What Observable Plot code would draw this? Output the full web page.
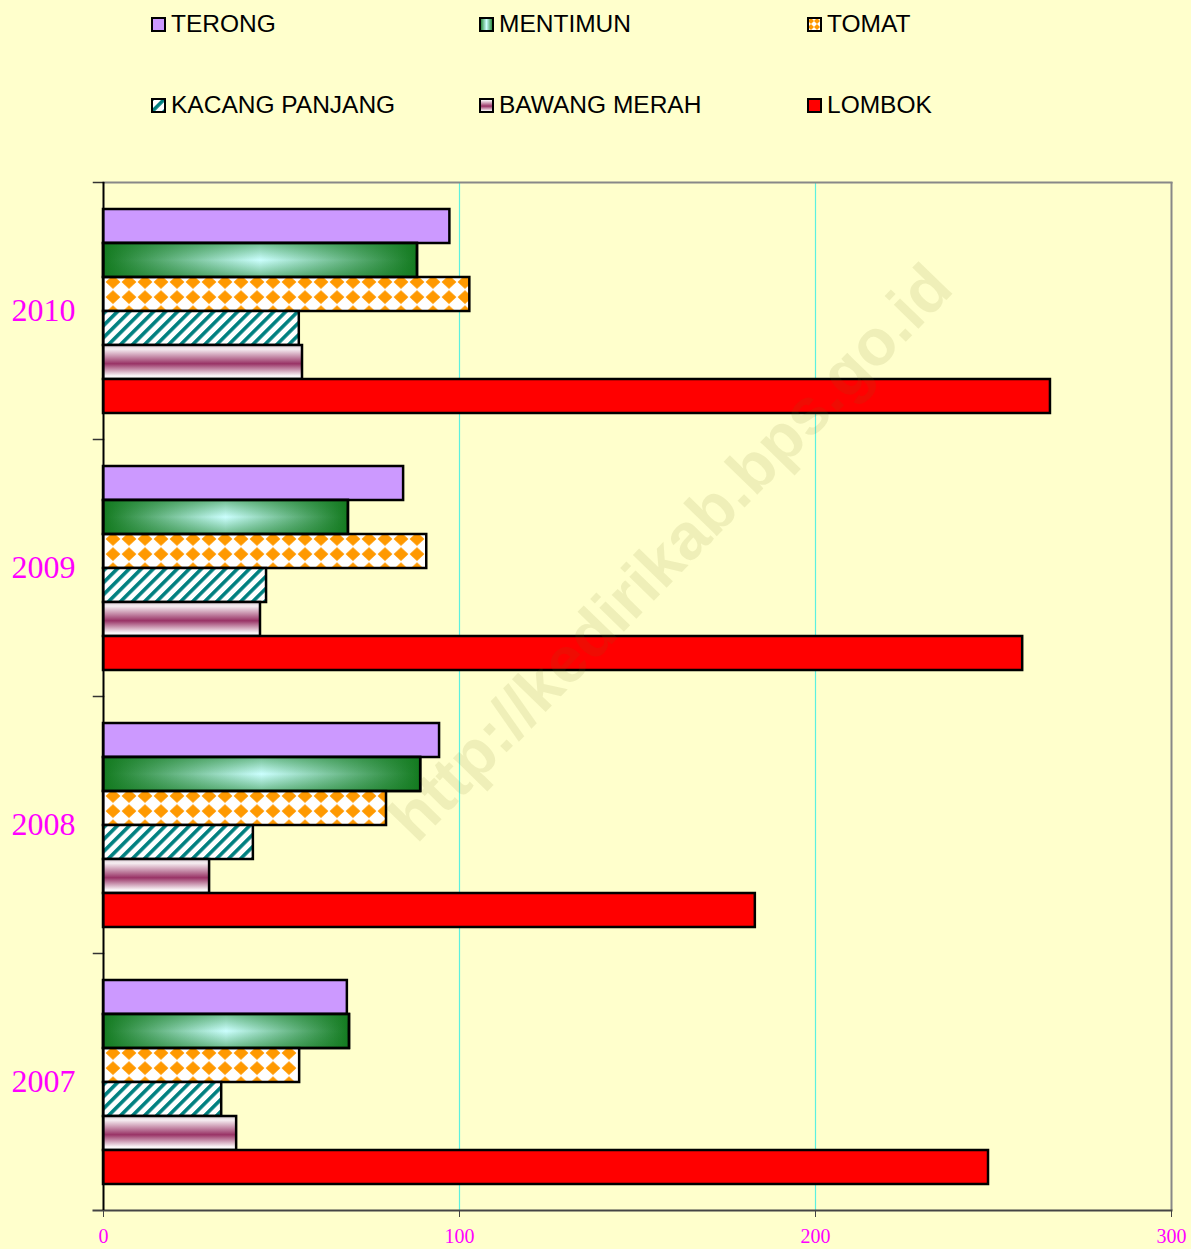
<!DOCTYPE html>
<html>
<head>
<meta charset="utf-8">
<script src="https://cdn.jsdelivr.net/npm/d3@7"></script>
<script src="https://cdn.jsdelivr.net/npm/@observablehq/plot@0.6"></script>
<style>
html, body { margin: 0; padding: 0; background: #FFFFCC; overflow: hidden; }
#wrap { position: relative; width: 1191px; height: 1249px; overflow: hidden; background: #FFFFCC; }
#legend { position: relative; height: 150px; }
.item { position: absolute; display: flex; align-items: center; font-family: "Liberation Sans", Arial, sans-serif; font-size: 24.5px; color: #000; line-height: 1; }
.item svg { margin-right: 5px; display: block; }
#wm { position: absolute; left: 670px; top: 552px; transform: translate(-50%, -50%) rotate(-45.8deg);
      font: bold 65px "Liberation Sans", Arial, sans-serif; color: rgba(110, 110, 30, 0.11); white-space: nowrap; pointer-events: none; }
#chart svg { display: block; }
</style>
</head>
<body>
<svg width="0" height="0" style="position:absolute">
  <defs>
    <linearGradient id="mentH" x1="0" y1="0" x2="1" y2="0">
      <stop offset="0" stop-color="#137A1F"/>
      <stop offset="0.5" stop-color="#CCFFFF"/>
      <stop offset="1" stop-color="#137A1F"/>
    </linearGradient>
    <linearGradient id="mentV" x1="0" y1="0" x2="0" y2="1">
      <stop offset="0" stop-color="#137A1F" stop-opacity="0.5"/>
      <stop offset="0.5" stop-color="#137A1F" stop-opacity="0"/>
      <stop offset="1" stop-color="#137A1F" stop-opacity="0.5"/>
    </linearGradient>
    <linearGradient id="bawang" x1="0" y1="0" x2="0" y2="1">
      <stop offset="0" stop-color="#D8C8D0"/>
      <stop offset="0.12" stop-color="#F6EEF2"/>
      <stop offset="0.55" stop-color="#993366"/>
      <stop offset="0.9" stop-color="#F8F2F5"/>
      <stop offset="1" stop-color="#FFFFFF"/>
    </linearGradient>
    <pattern id="tomat" x="9" y="3.5" width="16" height="15.118" patternUnits="userSpaceOnUse">
      <rect width="16" height="15.118" fill="#FFFFFF"/>
      <polygon points="8,0.6 15.4,7.56 8,14.5 0.6,7.56" fill="#FF9900"/>
    </pattern>
    <pattern id="tomatS" x="1" y="1" width="6" height="6" patternUnits="userSpaceOnUse">
      <rect width="6" height="6" fill="#FFFFFF"/>
      <polygon points="3,0 6,3 3,6 0,3" fill="#FF9900"/>
    </pattern>
    <pattern id="kacang" width="8.5" height="8.5" patternUnits="userSpaceOnUse" patternTransform="rotate(45)">
      <rect width="8.5" height="8.5" fill="#FFFFFF"/>
      <rect width="3.6" height="8.5" fill="#008080"/>
    </pattern>
  </defs>
</svg>
<div id="wrap">
  <div id="legend"></div>
  <div id="chart"></div>
  <div id="wm">http://kedirikab.bps.go.id</div>
</div>
<script>
// ---- data ----
const years = ["2010", "2009", "2008", "2007"];
const series = ["TERONG", "MENTIMUN", "TOMAT", "KACANG PANJANG", "BAWANG MERAH", "LOMBOK"];
// values per year, in the order of `years`
const terong   = [97.3, 84.3, 94.4, 68.5];
const mentimun = [88.2, 68.8, 89.1, 69.1];
const tomat    = [102.9, 90.8, 79.5, 55.1];
const kacang   = [55.0, 45.8, 42.1, 33.2];
const bawang   = [55.9, 44.1, 29.8, 37.4];
const lombok   = [266.0, 258.2, 183.1, 248.6];
const xTicks = [0, 100, 200, 300];

const valuesBySeries = [terong, mentimun, tomat, kacang, bawang, lombok];
const fills = {
  "TERONG": "#CC99FF",
  "MENTIMUN": "url(#mentH)",
  "TOMAT": "url(#tomat)",
  "KACANG PANJANG": "url(#kacang)",
  "BAWANG MERAH": "url(#bawang)",
  "LOMBOK": "#FF0000"
};
const swatchFills = Object.assign({}, fills, {"TOMAT": "url(#tomatS)"});

const data = [];
years.forEach((yr, i) => series.forEach((s, j) => data.push({year: yr, series: s, value: valuesBySeries[j][i]})));

// ---- legend ----
const legend = document.getElementById("legend");
series.forEach((s, j) => {
  const col = j % 3, row = Math.floor(j / 3);
  const el = document.createElement("div");
  el.className = "item";
  el.style.left = (151 + col * 328) + "px";
  el.style.top = (12 + row * 81) + "px";
  el.innerHTML = `<svg width="15" height="15"><rect x="1" y="1" width="13" height="13" fill="${swatchFills[s]}" stroke="#000" stroke-width="2"/></svg><span>${s}</span>`;
  legend.appendChild(el);
});

// ---- chart ----
const W = 1191, H = 1099, mL = 103, mR = 20, mT = 32, mB = 39;
const serif = "'Liberation Serif', 'Times New Roman', serif";
const chart = Plot.plot({
  width: W, height: H,
  marginLeft: mL, marginRight: mR, marginTop: mT, marginBottom: mB,
  style: {background: "#FFFFCC", overflow: "visible"},
  x: {domain: [0, 300], axis: null, label: null},
  y: {domain: series, paddingInner: 0, paddingOuter: 0.73, axis: null},
  fy: {domain: years, padding: 0, axis: null, label: null},
  color: {type: "identity"},
  marks: [
    Plot.ruleX(xTicks.slice(1, 3), {stroke: "#5CF0E0", strokeWidth: 1.2}),
    Plot.ruleX([300], {stroke: "#888888", strokeWidth: 2}),
    Plot.frame({anchor: "top", stroke: "#888888", strokeWidth: 2, facetAnchor: "top"}),
    Plot.frame({anchor: "top", stroke: "#333333", strokeWidth: 1.5, insetLeft: -10, insetRight: W - mL - mR}),
    Plot.frame({anchor: "bottom", stroke: "#444444", strokeWidth: 2, insetLeft: -10, facetAnchor: "bottom"}),
    Plot.barX(data, {fy: "year", y: "series", x: "value", fill: d => fills[d.series], stroke: "#000", strokeWidth: 2.5}),
    Plot.barX(data.filter(d => d.series === "MENTIMUN"), {fy: "year", y: "series", x: "value", fill: "url(#mentV)", stroke: "#000", strokeWidth: 2.5}),
    Plot.ruleX([0], {stroke: "#000", strokeWidth: 2}),
    Plot.axisX(xTicks, {anchor: "bottom", label: null, tickSize: 7, tickPadding: 11, stroke: "#444", fill: "#FF00FF", fontSize: 20, fontFamily: serif}),
    Plot.axisFy({anchor: "left", tickSize: 0, tickPadding: 28, fill: "#FF00FF", fontSize: 32, fontFamily: serif, label: null})
  ]
});
document.getElementById("chart").appendChild(chart);
</script>
</body>
</html>
